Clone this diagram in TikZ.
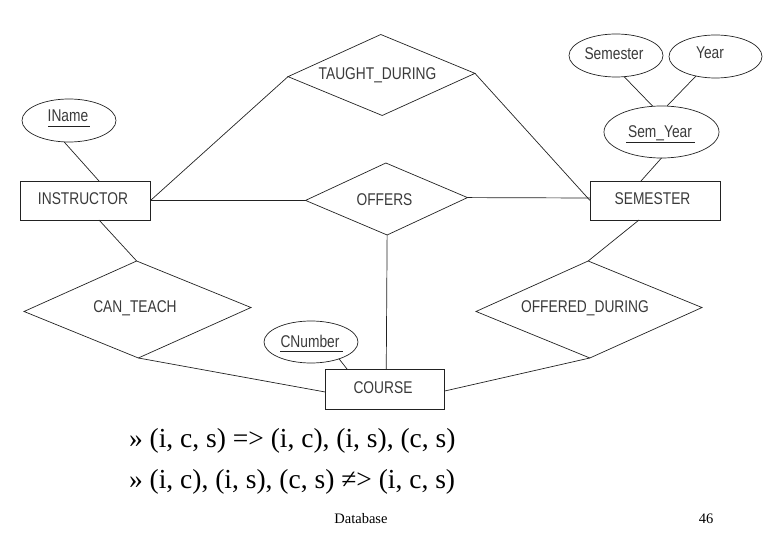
\documentclass[tikz,border=0pt]{standalone}
\usepackage{fontspec}
\usepackage{graphicx}
\setmainfont{Liberation Serif}
\newfontfamily\erfont{Liberation Sans}
\usetikzlibrary{shapes.geometric}
\definecolor{inkline}{HTML}{222222}
\definecolor{inktext}{HTML}{3A3A3A}
\newcommand{\erlabel}[1]{\scalebox{0.81}[1]{\erfont\fontsize{17}{17}\selectfont #1}}
\tikzset{
  lbl/.style={inner sep=0pt,outer sep=0pt,text=inktext},
  conn/.style={draw=inkline,line width=0.7pt},
  entitybox/.style={draw=inkline,line width=0.9pt,rectangle,inner sep=0pt,outer sep=0pt},
  rel/.style={draw=inkline,line width=0.7pt,diamond,inner sep=0pt,outer sep=0pt,rotate=1},
  attr/.style={draw=inkline,line width=0.7pt,ellipse,inner sep=0pt,outer sep=0pt},
  keyline/.style={draw=inkline,line width=0.8pt},
  slide/.style={inner sep=0pt,outer sep=0pt,anchor=base west,text=black,font=\fontsize{27.5}{27.5}\selectfont},
  foot/.style={inner sep=0pt,outer sep=0pt,text=black,font=\fontsize{14.5}{14.5}\selectfont}
}
\begin{document}
\begin{tikzpicture}[x=1pt,y=-1pt]
\useasboundingbox (0,0) rectangle (780,540);
% entities
\node[entitybox,minimum width=130pt,minimum height=39pt,label={[lbl,xshift=-2.5pt,yshift=2pt]center:\erlabel{INSTRUCTOR}}] (instr) at (85.5,200.5) {};
\node[entitybox,minimum width=130pt,minimum height=39pt,label={[lbl,xshift=-2.5pt,yshift=2pt]center:\erlabel{SEMESTER}}] (sem) at (655,200.5) {};
\node[entitybox,minimum width=119.5pt,minimum height=40pt,label={[lbl,xshift=-2pt,yshift=1pt]center:\erlabel{COURSE}}] (course) at (385,389) {};
% relationships
\node[rel,aspect=2.3,minimum width=187pt,minimum height=81pt,label={[lbl,xshift=-4pt,yshift=0pt]center:\erlabel{TAUGHT\_DURING}}] (taught) at (381.5,75) {};
\node[rel,aspect=2.25,minimum width=162pt,minimum height=72pt,label={[lbl,xshift=-2pt,yshift=-1pt]center:\erlabel{OFFERS}}] (offers) at (386.5,199) {};
\node[rel,aspect=2.34,minimum width=227pt,minimum height=97pt,label={[lbl,xshift=-2.5pt,yshift=1pt]center:\erlabel{CAN\_TEACH}}] (canteach) at (137.5,309.5) {};
\node[rel,aspect=2.33,minimum width=226pt,minimum height=97pt,label={[lbl,xshift=-4pt,yshift=1pt]center:\erlabel{OFFERED\_DURING}}] (offered) at (589,309.5) {};
% attributes
\node[attr,minimum width=94pt,minimum height=43pt,label={[lbl,xshift=-1pt,yshift=5pt]center:\erlabel{IName}}] (iname) at (69,120.5) {};
\node[attr,minimum width=94pt,minimum height=43pt,label={[lbl,xshift=-2pt,yshift=2pt]center:\erlabel{Semester}}] (semester) at (616,55.5) {};
\node[attr,minimum width=93pt,minimum height=43pt,label={[lbl,xshift=-5.5pt,yshift=4pt]center:\erlabel{Year}}] (year) at (715.5,56.5) {};
\node[attr,minimum width=115pt,minimum height=52pt,label={[lbl,xshift=-1.5pt,yshift=-1pt]center:\erlabel{Sem\_Year}}] (semyear) at (661.5,132) {};
\node[attr,minimum width=94pt,minimum height=42pt,label={[lbl,xshift=-1pt,yshift=1pt]center:\erlabel{CNumber}}] (cnumber) at (311,342) {};
% key underlines
\draw[keyline] (48,126) -- (90,126);
\draw[keyline] (626,142) -- (695,142);
\draw[keyline] (280,351) -- (343,351);
% connectors
\draw[conn] (iname.257) -- ([xshift=13.5pt]instr.north);
\draw[conn] (semester.291) -- ([xshift=-9pt]semyear.north);
\draw[conn] (year.225) -- ([xshift=5.5pt]semyear.north);
\draw[conn] (semyear.south) -- ([xshift=-14pt]sem.north);
\draw[conn] (instr.east) -- (taught.west);
\draw[conn] (instr.east) -- (offers.west);
\draw[conn] (offers.east) -- ([yshift=2.5pt]sem.west);
\draw[conn] (taught.east) -- (sem.west);
\draw[conn] ([xshift=13.5pt]instr.south) -- (canteach.north);
\draw[conn] ([xshift=-16pt]sem.south) -- (offered.north);
\draw[conn] (offers.south) -- ([xshift=1.25pt]course.north);
\draw[conn] (canteach.south) -- ([yshift=-3pt]course.west);
\draw[conn] (offered.south) -- ([yshift=-2pt]course.east);
\draw[conn] (cnumber.329) -- ([xshift=-38pt]course.north);
% slide text
\node[slide] (lineone) at (129,447) {» (i, c, s) => (i, c), (i, s), (c, s)};
\node[slide] (linetwo) at (129,488) {» (i, c), (i, s), (c, s) ≠> (i, c, s)};
\node[foot] (foottitle) at (361,519) {Database};
\node[foot] (footnum) at (706,519) {46};
\end{tikzpicture}
\end{document}
